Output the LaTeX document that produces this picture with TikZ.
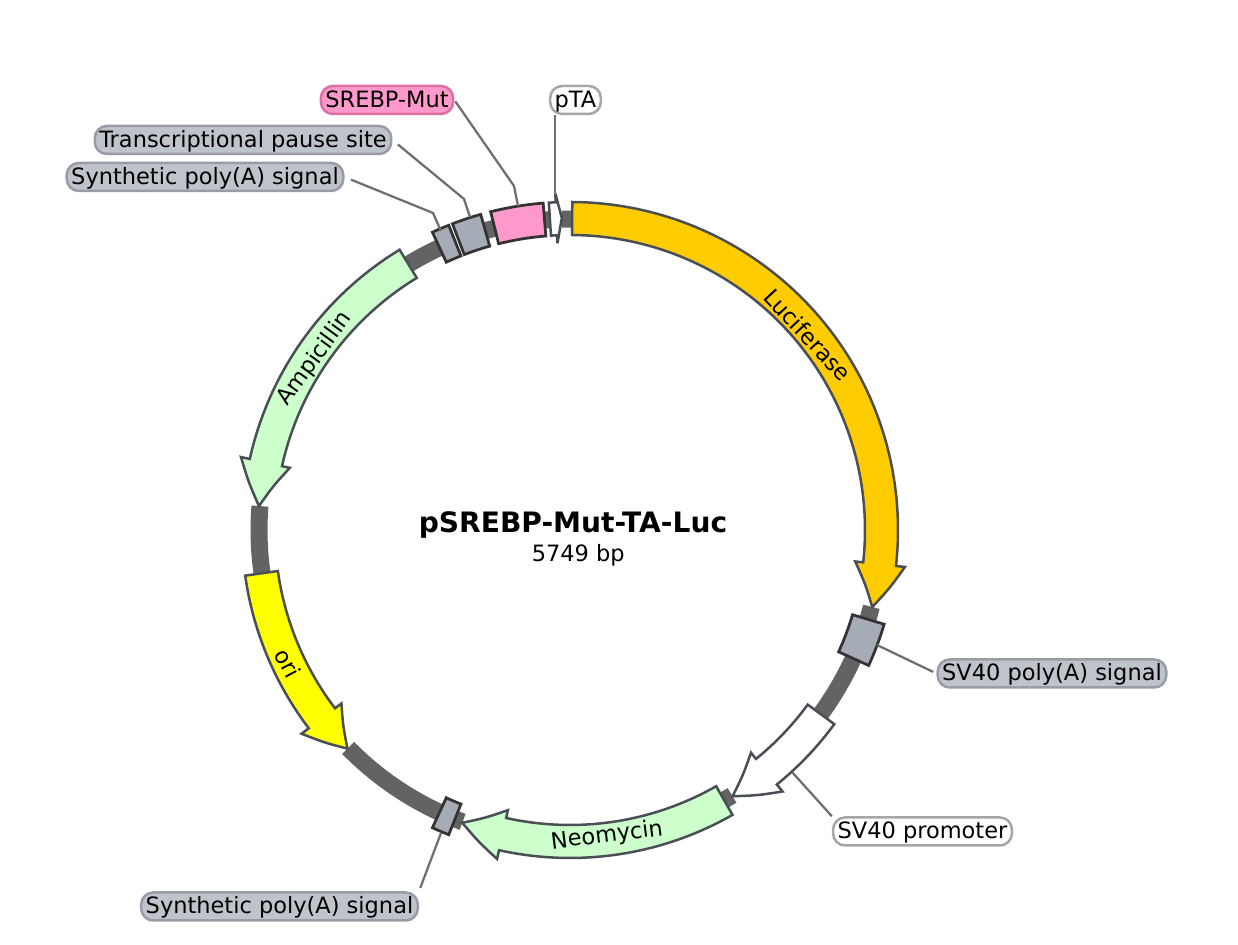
\documentclass[tikz,border=0pt]{standalone}
\usepackage{fontspec}
\setmainfont{DejaVu Sans}
\usepackage{tikz}
\usetikzlibrary{positioning,calc}

\definecolor{lucorange}{HTML}{FFCC00}
\definecolor{oriyellow}{HTML}{FFFF00}
\definecolor{resgreen}{HTML}{CCFFCC}
\definecolor{orangepink}{HTML}{FF99CC}
\definecolor{termgrey}{HTML}{A6ACB6}
\definecolor{pillgrey}{HTML}{BFC3CA}
\definecolor{pilledge}{HTML}{989CA6}
\definecolor{pinkedge}{HTML}{DC6FA3}
\definecolor{linegrey}{HTML}{6E6E6E}
\definecolor{spine}{HTML}{636363}
\definecolor{outline}{HTML}{4A4E55}

% arrow feature: fill, start angle, head base angle, tip angle
\newcommand{\genearrow}[4]{%
  \pgfmathsetmacro\midang{(#3+#4)/2}
  \draw[feature,fill=#1] (#2:295) arc[start angle=#2,end angle=#3,radius=295]
    -- (#3:287) .. controls (\midang:300) .. (#4:312)
    .. controls (\midang:325) .. (#3:337) -- (#3:328)
    arc[start angle=#3,end angle=#2,radius=328] -- cycle;}
% box feature: fill, start angle, end angle
\newcommand{\genebox}[3]{%
  \draw[boxfeature,fill=#1] (#2:295) arc[start angle=#2,end angle=#3,radius=295]
    -- (#3:328) arc[start angle=#3,end angle=#2,radius=328] -- cycle;}

\begin{document}
\begin{tikzpicture}[
    x=0.02cm,y=0.02cm,
    feature/.style={draw=outline,line width=0.05cm,miter limit=3},
    boxfeature/.style={draw=black!80,line width=0.055cm},
    backbone/.style={draw=spine,line width=0.34cm},
    leader/.style={draw=linegrey,line width=0.045cm},
    pill/.style={draw=pilledge,fill=pillgrey,line width=0.05cm,rounded corners=0.24cm,
      inner xsep=0.09cm,inner ysep=0pt,minimum height=0.56cm,
      text height=10.2pt,text depth=2pt,font=\fontsize{12.8}{15}\selectfont},
    pinkpill/.style={pill,draw=pinkedge,fill=orangepink},
    whitepill/.style={pill,fill=white,draw=black!35},
    genelabel/.style={inner sep=0pt,font=\fontsize{12.8}{15}\selectfont}
  ]
  \useasboundingbox (0,0) rectangle (1238,945);

  \begin{scope}[shift={(570,415)}]
    % backbone pieces between the features
    \foreach \from/\to in {-14.3/-16.7,-24.4/-36.3,-58.6/-60.3,249.8/248.3,245.2/224.5,
        188/175.6,121.3/114.8,105.8/104,94.7/93.7,91.5/89.6}
      \draw[backbone] (\from:311) arc[start angle=\from,end angle=\to,radius=311];

    \genearrow{lucorange}{89.6}{-6.3}{-14.3}
    \genearrow{white}{-36.3}{-50.9}{-58.6}
    \genearrow{resgreen}{-60.3}{-102.5}{-110.2}
    \genearrow{oriyellow}{188}{217.2}{224.5}
    \genearrow{resgreen}{121.3}{167.5}{175.6}
    \genearrow{white}{93.7}{92.5}{91.5}

    \genebox{termgrey}{-16.7}{-24.4}
    \genebox{termgrey}{245.2}{248.3}
    \genebox{termgrey}{111.7}{114.8}
    \genebox{termgrey}{105.8}{111}
    \genebox{orangepink}{94.7}{104}
  \end{scope}

  \node[genelabel,rotate=-47] (luc) at (808,610) {Luciferase};
  \node[genelabel,rotate=54] (amp) at (315,586) {Ampicillin};
  \node[genelabel,rotate=-62] (ori) at (288,282) {ori};
  \node[genelabel,rotate=7] (neo) at (607,109) {Neomycin};

  \node[inner sep=0pt,font=\fontsize{16}{18}\selectfont\bfseries] (title) at (573,420) {pSREBP-Mut-TA-Luc};
  \node[inner sep=0pt,font=\fontsize{12.8}{15}\selectfont,below=3pt of title.south,xshift=3pt] (size) {5749 bp};

  \node[pill] (polyup) at (205,768) {Synthetic poly(A) signal};
  \node[pill] (pause) at (243,805) {Transcriptional pause site};
  \node[pinkpill] (srebp) at (387,845) {SREBP-Mut};
  \node[whitepill] (pta) at (575.5,845) {pTA};
  \node[pill] (polyr) at (1052,271.5) {SV40 poly(A) signal};
  \node[whitepill] (sv40) at (922.5,113.5) {SV40 promoter};
  \node[pill] (polylow) at (279.5,38.5) {Synthetic poly(A) signal};

  \coordinate (polyupbend) at (433,732);
  \coordinate (polyupend) at (441,714);
  \coordinate (pausebend) at (464,746);
  \coordinate (pauseend) at (470,728);
  \coordinate (srebpbend) at (514,759);
  \coordinate (srebpend) at (518,739);
  \coordinate (ptaend) at (555,750);
  \coordinate (polyrend) at (877,300);
  \coordinate (sv40end) at (792,173);
  \coordinate (polylowend) at (441,112);

  \draw[leader,shorten <=4pt] (polyup.east) -- (polyupbend) -- (polyupend);
  \draw[leader,shorten <=4pt] (pause.east) -- (pausebend) -- (pauseend);
  \draw[leader,shorten <=1pt] (srebp.east) -- (srebpbend) -- (srebpend);
  \draw[leader] (pta.south -| ptaend) -- (ptaend);
  \draw[leader,shorten <=2pt] (polyr.west) -- (polyrend);
  \draw[leader] (sv40.north west) -- (sv40end);
  \draw[leader,shorten <=2pt] (polylow.north east) -- (polylowend);
\end{tikzpicture}
\end{document}
